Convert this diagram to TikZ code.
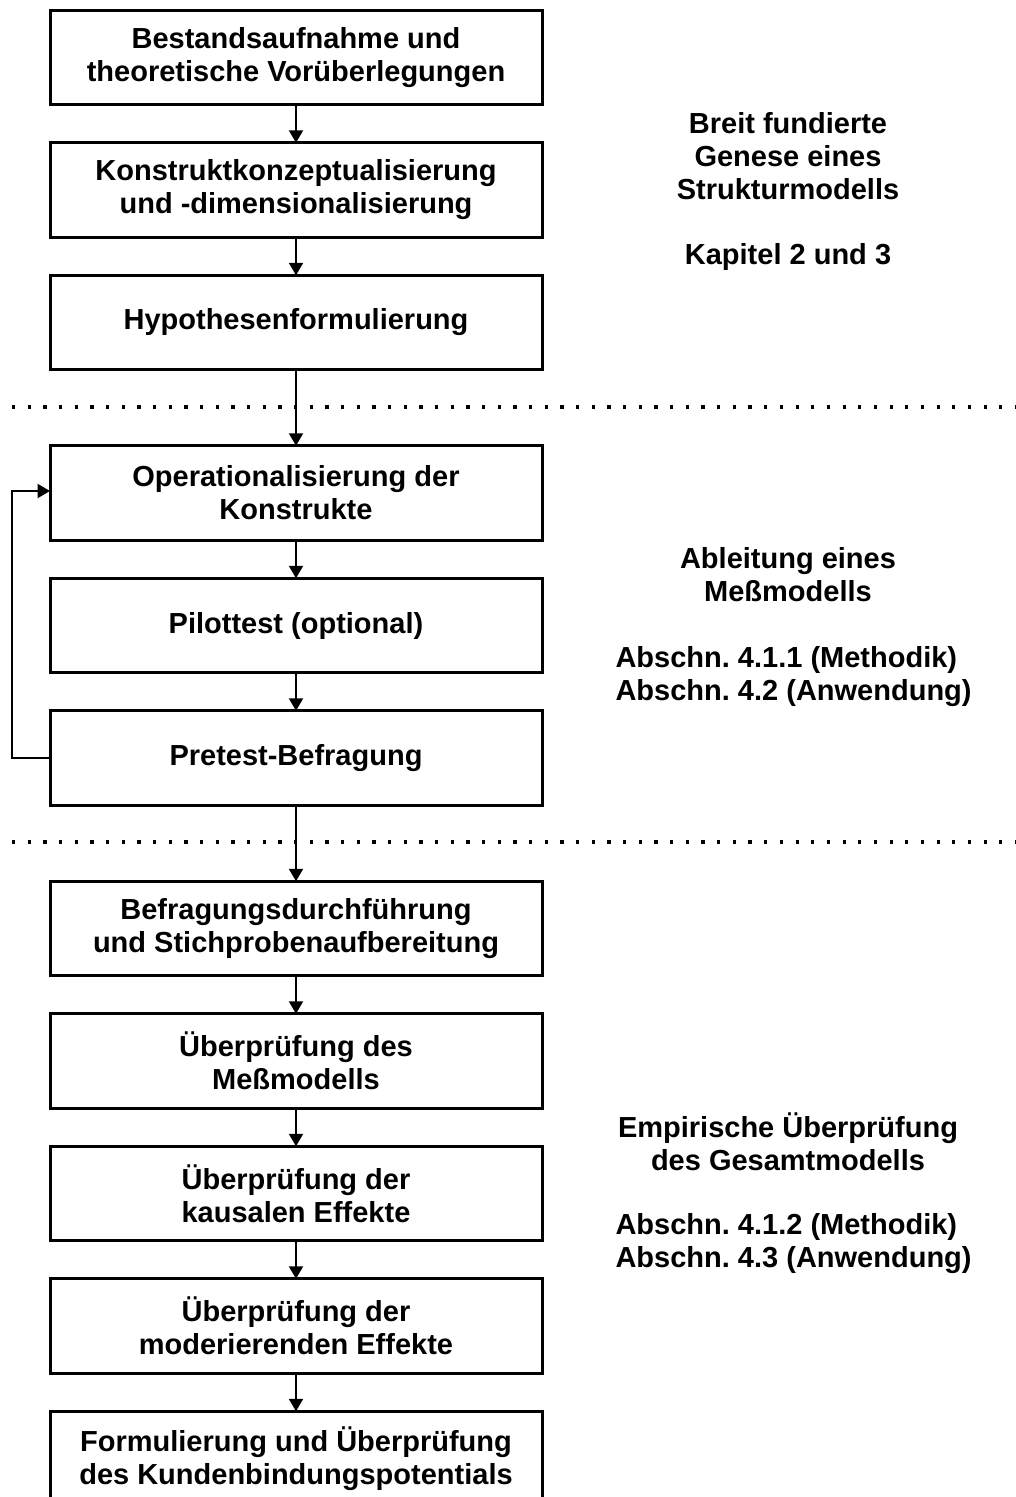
\documentclass[tikz,border=0pt]{standalone}
\usepackage{fontspec}
\setmainfont{Liberation Sans}
\usetikzlibrary{positioning,arrows.meta}
\frenchspacing

\begin{document}
\begin{tikzpicture}[x=1pt, y=1pt,
    stage/.style={draw, line width=3pt, minimum width=492pt, minimum height=94.5pt,
      inner sep=0pt, outer sep=0pt, align=center, font=\fontsize{29}{33}\selectfont\bfseries},
    flow/.style={line width=2.2pt, -{Triangle[length=12.5pt, width=14pt]}},
    divider/.style={line width=3.2pt, dash pattern=on 3.2pt off 12.47pt},
    note/.style={align=center, font=\fontsize{29}{33}\selectfont\bfseries}]
    \useasboundingbox (0,0) rectangle (1016,-1497);

    % Phase 1: structural model
    \node[stage] (bestand) at (296,-57.5) {Bestandsaufnahme und\\theoretische Vorüberlegungen};
    \node[stage, below=38pt of bestand] (konstrukt) {Konstruktkonzeptualisierung\\und -dimensionalisierung};
    \node[stage, below=38pt of konstrukt] (hypo) {Hypothesenformulierung};

    % Phase 2: measurement model
    \node[stage, below=76pt of hypo] (oper) {Operationalisierung der\\Konstrukte};
    \node[stage, below=38pt of oper] (pilot) {Pilottest (optional)};
    \node[stage, below=38pt of pilot] (pretest) {Pretest-Befragung};

    % Phase 3: empirical test
    \node[stage, below=76pt of pretest] (befragung) {Befragungsdurchführung\\und Stichprobenaufbereitung};
    \node[stage, below=38pt of befragung] (messmod) {Überprüfung des\\Meßmodells};
    \node[stage, below=38pt of messmod] (kausal) {Überprüfung der\\kausalen Effekte};
    \node[stage, below=38pt of kausal] (moder) {Überprüfung der\\moderierenden Effekte};
    \node[stage, below=38pt of moder] (potential) {Formulierung und Überprüfung\\des Kundenbindungspotentials};

    % Dotted phase separators
    \draw[divider] (12,-407) -- (1016,-407);
    \draw[divider] (12,-842) -- (1016,-842);

    % Flow arrows
    \draw[flow] (bestand) -- (konstrukt);
    \draw[flow] (konstrukt) -- (hypo);
    \draw[flow] (hypo) -- (oper);
    \draw[flow] (oper) -- (pilot);
    \draw[flow] (pilot) -- (pretest);
    \draw[flow] (pretest) -- (befragung);
    \draw[flow] (befragung) -- (messmod);
    \draw[flow] (messmod) -- (kausal);
    \draw[flow] (kausal) -- (moder);
    \draw[flow] (moder) -- (potential);

    % Feedback loop from pretest
    \draw[flow] (pretest.west) -- ++(-38,0) |- ([yshift=2pt]oper.west);

    % Phase descriptions
    \node[note] (genese) at (788,-156) {Breit fundierte\\Genese eines\\Strukturmodells};
    \node[note] (kapitel) at (788,-257) {Kapitel 2 und 3};
    \node[note] (ableitung) at (788,-574.5) {Ableitung eines\\Meßmodells};
    \node[note, align=left, anchor=west] (abschnA) at (612,-676.5) {Abschn. 4.1.1 (Methodik)\\Abschn. 4.2 (Anwendung)};
    \node[note] (empirie) at (788,-1142) {Empirische Überprüfung\\des Gesamtmodells};
    \node[note, align=left, anchor=west] (abschnB) at (612,-1243.5) {Abschn. 4.1.2 (Methodik)\\Abschn. 4.3 (Anwendung)};
\end{tikzpicture}
\end{document}
